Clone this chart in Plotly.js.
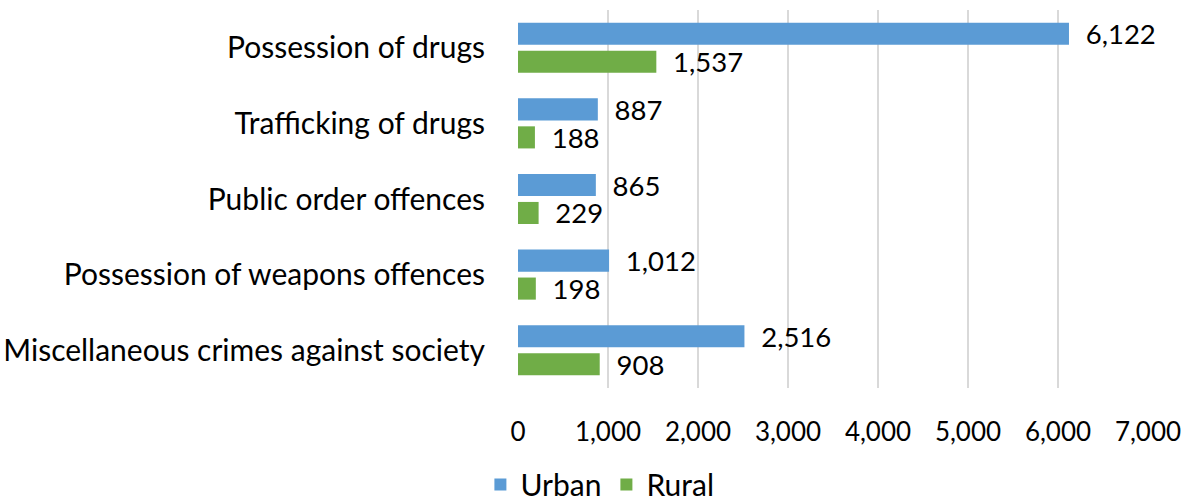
<!DOCTYPE html>
<html><head><meta charset="utf-8">
<script src="https://cdn.plot.ly/plotly-3.0.1.min.js"></script>
<style>html,body{margin:0;padding:0;background:#fff}#chart{width:1188px;height:502px}</style>
</head><body><div id="chart"></div>
<script>
const categories = ["Possession of drugs","Trafficking of drugs","Public order offences","Possession of weapons offences","Miscellaneous crimes against society"];
const urban = [6122, 887, 865, 1012, 2516];
const rural = [1537, 188, 229, 198, 908];
const xTicks = [0,1000,2000,3000,4000,5000,6000,7000];
const FONT = "Lato, sans-serif";
const traces = [
  {type:'bar', orientation:'h', name:'Urban', y:categories, x:urban, marker:{color:'#5B9BD5'},
   texttemplate:'\u2002%{x:,}', textposition:'outside', constraintext:'none', textfont:{family:FONT,size:27.5,color:'#000'}, cliponaxis:false, hoverinfo:'x'},
  {type:'bar', orientation:'h', name:'Rural', y:categories, x:rural, marker:{color:'#70AD47'},
   texttemplate:'\u2002%{x:,}', textposition:'outside', constraintext:'none', textfont:{family:FONT,size:27.5,color:'#000'}, cliponaxis:false, hoverinfo:'x'}
];
const layout = {
  width:1188, height:502,
  margin:{l:518, r:40, t:10, b:114, autoexpand:false},
  paper_bgcolor:'#fff', plot_bgcolor:'#fff',
  font:{family:FONT, size:27, color:'#000'},
  barmode:'group', bargap:0.26, bargroupgap:0.21,
  showlegend:true,
  legend:{orientation:'h', x:0.13, xanchor:'center', xref:'paper', yref:'container', y:0.035, yanchor:'middle',
          font:{family:FONT,size:30,color:'#000'}, traceorder:'normal'},
  xaxis:{range:[0,7000], tickvals:xTicks, ticktext:xTicks.map(v=>v.toLocaleString('en-US')),
         showgrid:true, gridcolor:'#D9D9D9', gridwidth:1.5, zeroline:false, showline:false,
         ticks:'outside', ticklen:21, tickcolor:'rgba(0,0,0,0)', tickfont:{family:FONT,size:26,color:'#000'}, fixedrange:true},
  yaxis:{autorange:'reversed', showgrid:false, zeroline:false, showline:false,
         ticks:'outside', ticklen:26, tickcolor:'rgba(0,0,0,0)', tickfont:{family:FONT,size:30,color:'#000'}, fixedrange:true}
};
Plotly.newPlot('chart', traces, layout, {displayModeBar:false, staticPlot:true});
</script></body></html>
